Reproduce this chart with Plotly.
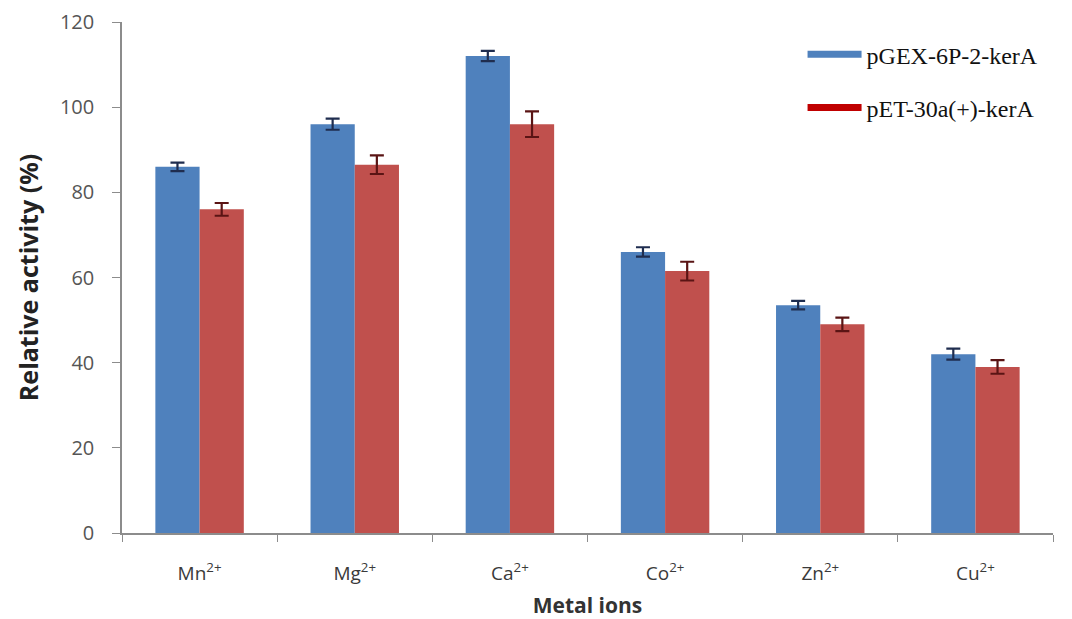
import plotly.graph_objects as go

# Relative activity of the two recombinant keratinases in the presence of metal ions
ions = ["Mn<sup>2+</sup>", "Mg<sup>2+</sup>", "Ca<sup>2+</sup>",
        "Co<sup>2+</sup>", "Zn<sup>2+</sup>", "Cu<sup>2+</sup>"]
pgex_activity = [86, 96, 112, 66, 53.5, 42]
pgex_error = [1.0, 1.3, 1.2, 1.1, 1.0, 1.3]
pet_activity = [76, 86.5, 96, 61.5, 49, 39]
pet_error = [1.5, 2.2, 3.0, 2.2, 1.6, 1.6]
series_names = ["pGEX-6P-2-kerA", "pET-30a(+)-kerA"]
y_ticks = [0, 20, 40, 60, 80, 100, 120]

BLUE = "#4F81BD"
RED = "#C0504D"

fig = go.Figure()
fig.add_trace(go.Bar(
    x=ions, y=pgex_activity, name=series_names[0], marker_color=BLUE,
    marker_line_width=0, showlegend=False,
    error_y=dict(type="data", array=pgex_error, color="#1F2D4F",
                 thickness=2.2, width=7),
))
fig.add_trace(go.Bar(
    x=ions, y=pet_activity, name=series_names[1], marker_color=RED,
    marker_line_width=0, showlegend=False,
    error_y=dict(type="data", array=pet_error, color="#5A1414",
                 thickness=2.2, width=7),
))

# Legend entries drawn as thick line swatches
for name, color, grp in [(series_names[0], BLUE, "a"), (series_names[1], "#C00000", "b")]:
    fig.add_trace(go.Scatter(
        x=[None], y=[None], mode="lines", name=name, legendgroup=grp,
        line=dict(color=color, width=7),
    ))

fig.update_layout(
    width=1072, height=619,
    margin=dict(l=122, r=19, t=22, b=86),
    paper_bgcolor="white", plot_bgcolor="white",
    barmode="group", bargap=0.43, bargroupgap=0,
    font=dict(family="Open Sans", color="#404040"),
    legend=dict(
        x=0.731, y=0.98, xanchor="left", yanchor="top",
        font=dict(family="Liberation Serif", size=24, color="#111111"),
        tracegroupgap=19, itemwidth=54, bgcolor="rgba(0,0,0,0)",
    ),
    xaxis=dict(
        automargin=False,
        showline=True, linecolor="#8C8C8C", linewidth=1.5,
        ticks="outside", tickson="boundaries", ticklen=7, tickcolor="#8C8C8C",
        tickfont=dict(size=19, color="#3A3A3A"), ticklabelstandoff=22,
        title=dict(text="<b>Metal ions</b>", font=dict(size=21, color="#333333"),
                   standoff=15),
        showgrid=False,
    ),
    yaxis=dict(
        automargin=False,
        range=[0, 120], tickvals=y_ticks,
        showline=True, linecolor="#8C8C8C", linewidth=1.5,
        ticks="outside", ticklen=8, tickcolor="#8C8C8C",
        tickfont=dict(size=20, color="#555555"), ticklabelstandoff=14,
        title=dict(text="<b>Relative activity (%)</b>",
                   font=dict(size=25, color="#222222"), standoff=14),
        showgrid=False, zeroline=False,
    ),
)

fig.write_html("out.html")
